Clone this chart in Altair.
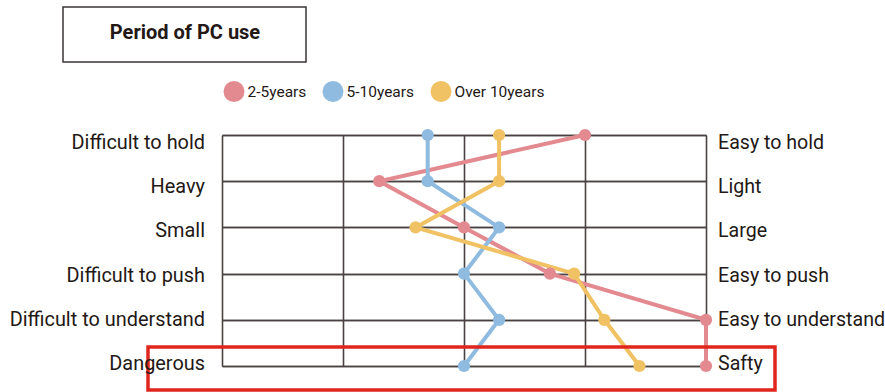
import altair as alt
import pandas as pd

# Paired adjectives (left pole / right pole), top to bottom
left_terms = ["Difficult to hold", "Heavy", "Small", "Difficult to push",
              "Difficult to understand", "Dangerous"]
right_terms = ["Easy to hold", "Light", "Large", "Easy to push",
               "Easy to understand", "Safty"]

series = ["2-5years", "5-10years", "Over 10years"]
colors = ["#e38a90", "#8fbbe0", "#f0c263"]

# Mean scores on a -2 .. +2 scale
scores_2_5 = [1.0, -0.7, 0.0, 0.71, 2.0, 2.0]
scores_5_10 = [-0.3, -0.3, 0.29, 0.0, 0.29, 0.0]
scores_10_plus = [0.29, 0.29, -0.4, 0.91, 1.16, 1.45]

x_ticks = [-2, -1, 0, 1, 2]

rows = []
for name, vals in zip(series, [scores_2_5, scores_5_10, scores_10_plus]):
    for i, (lt, v) in enumerate(zip(left_terms, vals)):
        rows.append({"series": name, "item": lt, "idx": i, "score": v})
df = pd.DataFrame(rows)

labels_df = pd.DataFrame({"item": left_terms, "right": right_terms})

FONT = "Roboto"
TEXT_COLOR = "#231815"
GRID = "#4a4242"

x_enc = alt.X("score:Q", scale=alt.Scale(domain=[-2, 2], nice=False, zero=False),
              axis=alt.Axis(values=x_ticks, grid=True, gridColor=GRID, gridWidth=1.6,
                            labels=False, ticks=False, domain=False, title=None))
y_enc = alt.Y("item:N", sort=left_terms,
              scale=alt.Scale(type="point", padding=0),
              axis=alt.Axis(grid=True, gridColor=GRID, gridWidth=1.6,
                            labels=False, ticks=False, domain=False, title=None))
color_enc = alt.Color("series:N",
                      scale=alt.Scale(domain=series, range=colors),
                      legend=alt.Legend(title=None, orient="none", direction="horizontal",
                                        legendX=1.5, legendY=-54,
                                        symbolType="circle", symbolSize=440,
                                        symbolStrokeWidth=0, symbolOpacity=1,
                                        labelFont=FONT, labelFontSize=15.5,
                                        labelColor=TEXT_COLOR, labelOffset=3,
                                        columnPadding=16))

lines = alt.Chart(df).mark_line(strokeWidth=4).encode(
    x=x_enc, y=y_enc, color=color_enc, order="idx:Q")
points = alt.Chart(df).mark_circle(size=150, opacity=1).encode(
    x=x_enc, y=y_enc, color=alt.Color("series:N", scale=alt.Scale(domain=series, range=colors),
                                       legend=None))

label_y = alt.Y("item:N", sort=left_terms,
                scale=alt.Scale(type="point", padding=0, range=[8, 229]), axis=None)
left_labels = alt.Chart(labels_df).mark_text(
    align="right", baseline="middle", font=FONT, fontSize=19.9, color=TEXT_COLOR
).encode(x=alt.value(-17), y=label_y, text="item:N")
right_labels = alt.Chart(labels_df).mark_text(
    align="left", baseline="middle", font=FONT, fontSize=19.6, color=TEXT_COLOR
).encode(x=alt.value(496), y=label_y, text="right:N")

# Highlight frame around the safety row
anno = pd.DataFrame({"k": [0]})
highlight = alt.Chart(anno).mark_rect(
    fill=None, stroke="#e0261c", strokeWidth=3.5
).encode(x=alt.value(-74), x2=alt.value(553), y=alt.value(212), y2=alt.value(255))

# Boxed heading
title_box = alt.Chart(anno).mark_rect(
    fill="white", stroke="#3a3535", strokeWidth=1.5
).encode(x=alt.value(-159), x2=alt.value(84), y=alt.value(-128), y2=alt.value(-73))
title_text = alt.Chart(anno).mark_text(
    text="Period of PC use", font=FONT, fontSize=20, fontWeight="bold",
    color=TEXT_COLOR, align="center", baseline="middle"
).encode(x=alt.value(-37), y=alt.value(-102))

chart = alt.layer(
    lines, points, highlight, left_labels, right_labels, title_box, title_text
).resolve_scale(y="independent").properties(
    width=484, height=231,
    autosize=alt.AutoSizeParams(type="none"),
    padding={"left": 222, "top": 135, "right": 179, "bottom": 26},
    background="white",
).configure_view(stroke=None)

chart.save("out.html", embed_options={"renderer": "svg", "actions": False})
